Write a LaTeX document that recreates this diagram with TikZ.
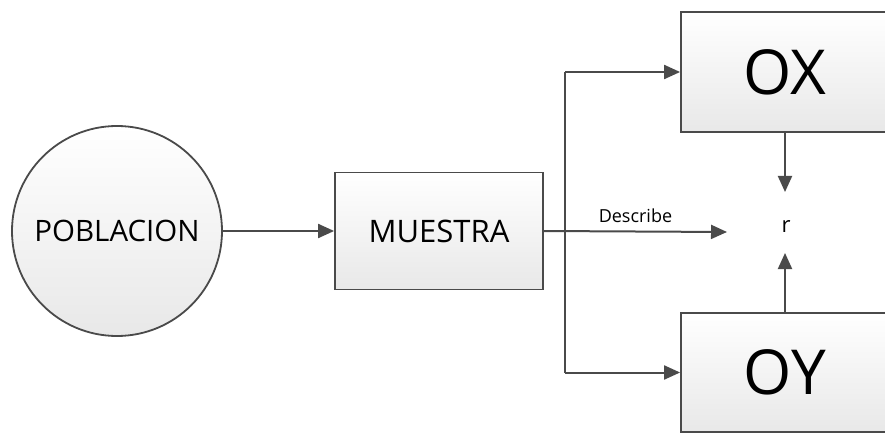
\documentclass[tikz,border=0pt]{standalone}
\usepackage{fontspec}
\setmainfont{Open Sans}
\usetikzlibrary{arrows.meta,positioning}
\definecolor{linegray}{HTML}{4A4A4A}

\begin{document}
\begin{tikzpicture}[x=1pt,y=1pt,node distance=322pt,on grid,
	caja/.style={draw=linegray,line width=1.8pt,top color=white,bottom color=black!9,
		minimum width=208pt,inner sep=0pt},
	flecha/.style={-{Triangle[length=16pt,width=14pt]},draw=linegray,line width=2pt}]
	\useasboundingbox (0,0) rectangle (885,434);
	\node[circle,caja,minimum size=210pt,font=\fontsize{29.5}{30}\selectfont] (pob) at (117,203) {POBLACION};
	\node[caja,minimum height=117pt,font=\fontsize{31}{32}\selectfont] (mue) [right of=pob] {MUESTRA};
	\node[caja,minimum height=120pt,font=\fontsize{62}{64}\selectfont] (ox) at (785,362) {OX};
	\node[caja,minimum height=119pt,font=\fontsize{62}{64}\selectfont] (oy) at (785,61.5) {OY};
	\node[font=\fontsize{22}{24}\selectfont] (r) at (786,207) {r};
	\coordinate (ram) at (565,202);
	\coordinate (desc) at (727,202);
	\coordinate (rarriba) at (785,242);
	\coordinate (rabajo) at (785,181);
	\draw[flecha] (pob) -- (mue);
	\draw[flecha] (mue.east) -- node[above=4pt,anchor=south,font=\fontsize{18}{20}\selectfont] {Describe} (desc);
	\draw[flecha] (ram |- ox.west) -- (ox.west);
	\draw[flecha] (ram |- oy.west) -- (oy.west);
	\draw[flecha] (ox.south -| rarriba) -- (rarriba);
	\draw[flecha] (oy.north -| rabajo) -- (rabajo);
	\draw[draw=linegray,line width=2pt] (ram |- ox.west) -- (ram |- oy.west);
\end{tikzpicture}
\end{document}
